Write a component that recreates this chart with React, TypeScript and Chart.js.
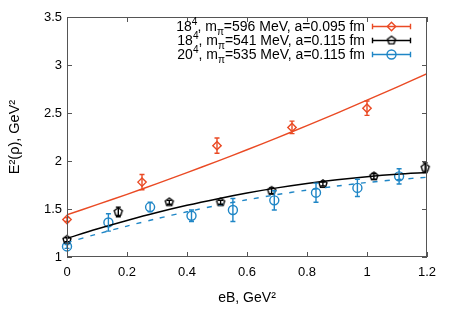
import React, { useEffect, useRef } from 'react';
import { Chart, registerables } from 'chart.js';

Chart.register(...registerables);

// ---- data ----
const xTickLabels = ['0', '0.2', '0.4', '0.6', '0.8', '1', '1.2'];
const yTickLabels = ['1', '1.5', '2', '2.5', '3', '3.5'];

const redX = [0, 0.25, 0.5, 0.75, 1.0];
const redY = [1.39, 1.78, 2.16, 2.35, 2.55];
const redErr = [0.02, 0.08, 0.08, 0.065, 0.075];

const blackX = [0, 0.171, 0.341, 0.512, 0.682, 0.853, 1.023, 1.194];
const blackY = [1.18, 1.47, 1.57, 1.57, 1.69, 1.76, 1.84, 1.93];
const blackErr = [0.02, 0.05, 0.02, 0.02, 0.03, 0.02, 0.03, 0.05];

const blueX = [0, 0.138, 0.277, 0.415, 0.553, 0.691, 0.83, 0.968, 1.107];
const blueY = [1.11, 1.36, 1.52, 1.43, 1.49, 1.59, 1.67, 1.72, 1.84];
const blueErr = [0.02, 0.09, 0.05, 0.06, 0.12, 0.1, 0.1, 0.09, 0.08];

const fitX = [0, 0.1, 0.2, 0.3, 0.4, 0.5, 0.6, 0.7, 0.8, 0.9, 1.0, 1.1, 1.2];
const redFit = [1.44, 1.545, 1.653, 1.764, 1.879, 1.996, 2.117, 2.241, 2.369, 2.499, 2.633, 2.77, 2.91];
const blackFit = [1.195, 1.291, 1.38, 1.463, 1.538, 1.605, 1.666, 1.72, 1.766, 1.805, 1.837, 1.862, 1.88];
const blueFit = [1.15, 1.239, 1.322, 1.4, 1.471, 1.537, 1.596, 1.65, 1.697, 1.739, 1.776, 1.806, 1.831];

const legendLattice = ['18', '18', '20'];
const legendMpi = ['596', '541', '535'];
const legendA = ['0.095', '0.115', '0.115'];

const RED = '#ea4a24';
const BLACK = '#000000';
const BLUE = '#1f86c6';
const FONT = "'Liberation Sans', Arial, sans-serif";

function makePentagon(r: number, color: string, lw: number) {
  const size = Math.ceil(2 * r + lw * 2 + 2);
  const c = document.createElement('canvas');
  c.width = size;
  c.height = size;
  const ctx = c.getContext('2d')!;
  ctx.strokeStyle = color;
  ctx.lineWidth = lw;
  ctx.beginPath();
  for (let k = 0; k < 5; k++) {
    const ang = -Math.PI / 2 + (k * 2 * Math.PI) / 5;
    const px = size / 2 + r * Math.cos(ang);
    const py = size / 2 + r * Math.sin(ang);
    if (k === 0) ctx.moveTo(px, py);
    else ctx.lineTo(px, py);
  }
  ctx.closePath();
  ctx.stroke();
  return c;
}

function toPts(xs: number[], ys: number[]) {
  return xs.map((x, i) => ({ x, y: ys[i] }));
}

export default function App() {
  const ref = useRef<HTMLCanvasElement | null>(null);

  useEffect(() => {
    if (!ref.current) return;
    const pentagon = makePentagon(4.2, BLACK, 1.4);

    const series = [
      { xs: redX, ys: redY, err: redErr, color: RED },
      { xs: blackX, ys: blackY, err: blackErr, color: BLACK },
      { xs: blueX, ys: blueY, err: blueErr, color: BLUE },
    ];

    const drawMarker = (ctx: CanvasRenderingContext2D, kind: number, x: number, y: number) => {
      ctx.save();
      ctx.lineWidth = 1.4;
      if (kind === 0) {
        ctx.strokeStyle = RED;
        const r = 4.2;
        ctx.beginPath();
        ctx.moveTo(x, y - r);
        ctx.lineTo(x + r, y);
        ctx.lineTo(x, y + r);
        ctx.lineTo(x - r, y);
        ctx.closePath();
        ctx.stroke();
      } else if (kind === 1) {
        ctx.drawImage(pentagon, x - pentagon.width / 2, y - pentagon.height / 2);
      } else {
        ctx.strokeStyle = BLUE;
        ctx.beginPath();
        ctx.arc(x, y, 4.5, 0, Math.PI * 2);
        ctx.stroke();
      }
      ctx.restore();
    };

    const frame = {
      id: 'frame',
      afterDraw(chart: any) {
        const { ctx, chartArea: a, scales } = chart;
        ctx.save();
        ctx.strokeStyle = '#555555';
        ctx.lineWidth = 1;
        ctx.strokeRect(a.left + 0.5, a.top + 0.5, a.right - a.left - 1, a.bottom - a.top - 1);
        ctx.beginPath();
        const tl = 5;
        scales.x.ticks.forEach((t: any) => {
          const px = Math.round(scales.x.getPixelForValue(t.value)) + 0.5;
          ctx.moveTo(px, a.bottom);
          ctx.lineTo(px, a.bottom - tl);
          ctx.moveTo(px, a.top);
          ctx.lineTo(px, a.top + tl);
        });
        scales.y.ticks.forEach((t: any) => {
          const py = Math.round(scales.y.getPixelForValue(t.value)) + 0.5;
          ctx.moveTo(a.left, py);
          ctx.lineTo(a.left + tl, py);
          ctx.moveTo(a.right, py);
          ctx.lineTo(a.right - tl, py);
        });
        ctx.stroke();
        ctx.restore();
      },
    };

    const errorBars = {
      id: 'errorBars',
      afterDatasetsDraw(chart: any) {
        const { ctx, scales } = chart;
        ctx.save();
        ctx.lineWidth = 1.4;
        series.forEach((s) => {
          ctx.strokeStyle = s.color;
          ctx.beginPath();
          s.xs.forEach((xv, i) => {
            const px = scales.x.getPixelForValue(xv);
            const p1 = scales.y.getPixelForValue(s.ys[i] - s.err[i]);
            const p2 = scales.y.getPixelForValue(s.ys[i] + s.err[i]);
            ctx.moveTo(px, p1);
            ctx.lineTo(px, p2);
            ctx.moveTo(px - 2.5, p1);
            ctx.lineTo(px + 2.5, p1);
            ctx.moveTo(px - 2.5, p2);
            ctx.lineTo(px + 2.5, p2);
          });
          ctx.stroke();
        });
        ctx.restore();
      },
    };

    const legend = {
      id: 'customLegend',
      afterDraw(chart: any) {
        const { ctx } = chart;
        const size = 14;
        const right = 365;
        const baselines = [31, 45, 59];
        const colors = [RED, BLACK, BLUE];
        ctx.save();
        ctx.fillStyle = '#000';
        ctx.textBaseline = 'alphabetic';
        ctx.textAlign = 'left';
        legendLattice.forEach((lat, i) => {
          const segs = [
            { t: lat, k: 'n' },
            { t: '4', k: 'sup' },
            { t: ', m', k: 'n' },
            { t: 'π', k: 'sub' },
            { t: `=${legendMpi[i]} MeV, a=${legendA[i]} fm`, k: 'n' },
          ];
          const fontFor = (k: string) => `${k === 'n' ? size : size * 0.72}px ${FONT}`;
          let total = 0;
          segs.forEach((s) => {
            ctx.font = fontFor(s.k);
            total += ctx.measureText(s.t).width;
          });
          let x = right - total;
          const yb = baselines[i];
          segs.forEach((s) => {
            ctx.font = fontFor(s.k);
            const dy = s.k === 'sup' ? -size * 0.45 : s.k === 'sub' ? size * 0.25 : 0;
            ctx.fillText(s.t, x, yb + dy);
            x += ctx.measureText(s.t).width;
          });
          // sample
          const ly = yb - 4.5;
          const x1 = 372.5;
          const x2 = 410.5;
          ctx.strokeStyle = colors[i];
          ctx.lineWidth = 1.4;
          ctx.beginPath();
          ctx.moveTo(x1, ly);
          ctx.lineTo(x2, ly);
          ctx.moveTo(x1, ly - 2.7);
          ctx.lineTo(x1, ly + 2.7);
          ctx.moveTo(x2, ly - 2.7);
          ctx.lineTo(x2, ly + 2.7);
          ctx.stroke();
          drawMarker(ctx, i, 391.5, ly);
        });
        ctx.restore();
      },
    };

    const chart = new Chart(ref.current, {
      type: 'scatter',
      data: {
        datasets: [
          {
            type: 'line',
            data: toPts(fitX, redFit),
            borderColor: RED,
            borderWidth: 1.4,
            pointRadius: 0,
            tension: 0.3,
            fill: false,
          },
          {
            type: 'line',
            data: toPts(fitX, blackFit),
            borderColor: BLACK,
            borderWidth: 1.5,
            pointRadius: 0,
            tension: 0.3,
            fill: false,
          },
          {
            type: 'line',
            data: toPts(fitX, blueFit),
            borderColor: BLUE,
            borderWidth: 1.4,
            borderDash: [5, 7],
            pointRadius: 0,
            tension: 0.3,
            fill: false,
          },
          {
            data: toPts(redX, redY),
            pointStyle: 'rectRot',
            pointRadius: 4.2,
            borderColor: RED,
            backgroundColor: 'rgba(0,0,0,0)',
            borderWidth: 1.4,
            clip: false,
          },
          {
            data: toPts(blackX, blackY),
            pointStyle: pentagon as any,
            pointRadius: 4.2,
            borderColor: BLACK,
            backgroundColor: 'rgba(0,0,0,0)',
            borderWidth: 1.4,
            clip: false,
          },
          {
            data: toPts(blueX, blueY),
            pointStyle: 'circle',
            pointRadius: 4.5,
            borderColor: BLUE,
            backgroundColor: 'rgba(0,0,0,0)',
            borderWidth: 1.4,
            clip: false,
          },
        ] as any,
      },
      options: {
        animation: false,
        responsive: true,
        maintainAspectRatio: false,
        layout: { padding: { top: 17, right: 25, left: 0, bottom: 0 } },
        plugins: {
          legend: { display: false },
          tooltip: { enabled: false },
          title: { display: false },
        },
        scales: {
          x: {
            type: 'linear',
            min: 0,
            max: 1.2,
            grid: { display: false, drawTicks: false },
            border: { display: false },
            ticks: {
              stepSize: 0.2,
              padding: 8,
              color: '#000',
              font: { family: FONT, size: 13 },
              maxRotation: 0,
              callback: (_v: any, i: number) => xTickLabels[i],
            },
            title: {
              display: true,
              text: 'eB, GeV²',
              color: '#000',
              font: { family: FONT, size: 14 },
              padding: { top: 0, bottom: 9 },
            },
            afterFit: (s: any) => {
              s.height = 59;
            },
          },
          y: {
            type: 'linear',
            min: 1,
            max: 3.5,
            grid: { display: false, drawTicks: false },
            border: { display: false },
            ticks: {
              stepSize: 0.5,
              padding: 5,
              color: '#000',
              font: { family: FONT, size: 13 },
              callback: (_v: any, i: number) => yTickLabels[i],
            },
            title: {
              display: true,
              text: 'E²(ρ), GeV²',
              color: '#000',
              font: { family: FONT, size: 14.5 },
              padding: { top: 6, bottom: 0 },
            },
            afterFit: (s: any) => {
              s.width = 67;
            },
          },
        },
      } as any,
      plugins: [frame, errorBars, legend],
    });

    return () => chart.destroy();
  }, []);

  return (
    <div style={{ position: 'absolute', left: 0, top: 0, width: 452, height: 316, background: '#fff' }}>
      <canvas ref={ref} />
    </div>
  );
}
